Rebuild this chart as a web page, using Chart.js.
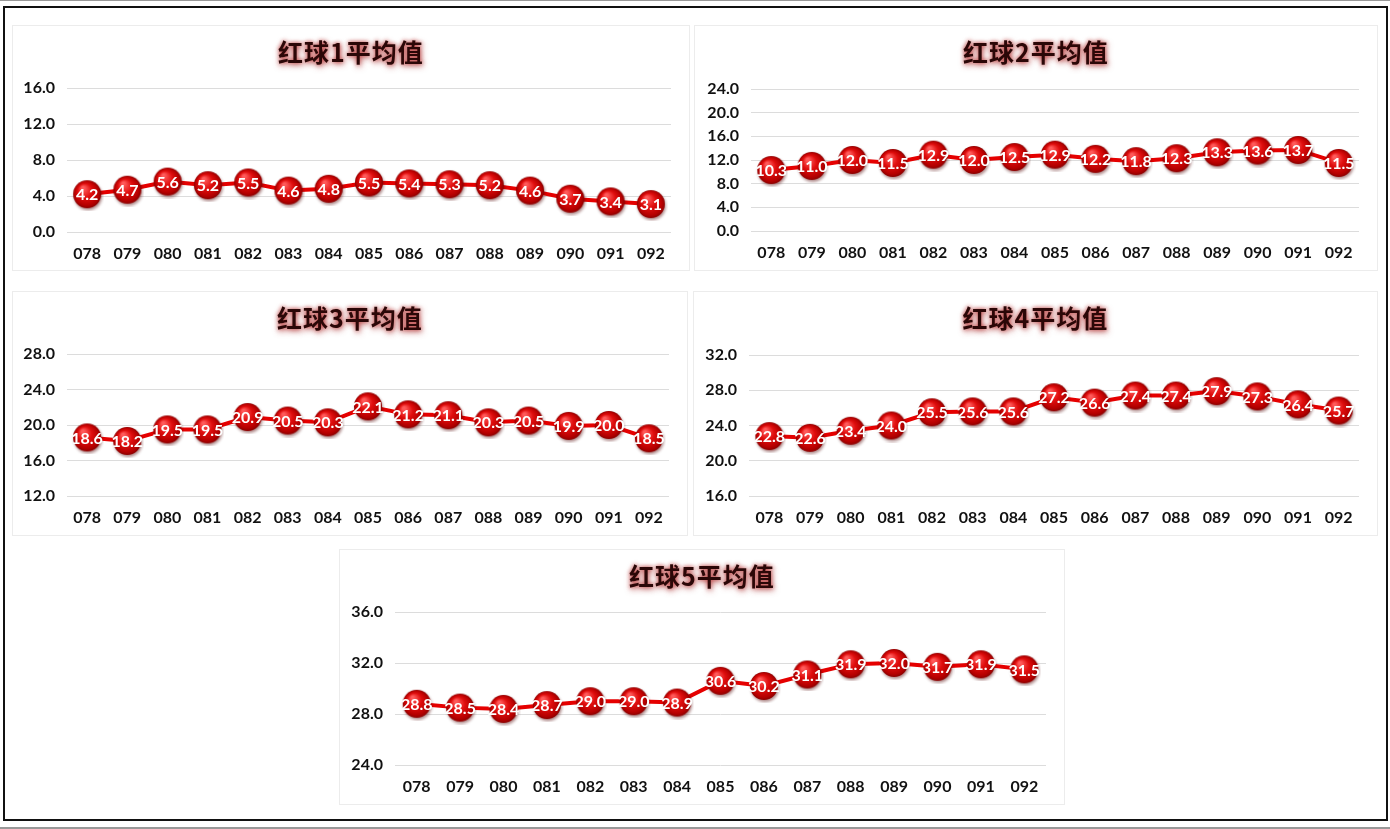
<!DOCTYPE html>
<html>
<head>
<meta charset="utf-8">
<script src="https://cdn.jsdelivr.net/npm/chart.js@4/dist/chart.umd.min.js"></script>
<style>
  html, body { margin: 0; padding: 0; background: #fff; }
  body { width: 1390px; height: 829px; position: relative; overflow: hidden; }
  .frame { position: absolute; left: 0; top: 0; width: 1390px; height: 829px; box-sizing: border-box; border-top: 1px solid #999; border-bottom: 2px solid #999; }
  .inner { position: absolute; left: 3px; top: 6px; width: 1385px; height: 815px; box-sizing: border-box; border: 2px solid #111; }
  .panel { position: absolute; box-sizing: border-box; border: 1px solid #ececec; background: #fff; }
  .panel canvas { position: absolute; left: 0; top: 0; }
  .title { position: absolute; left: 0; right: 0; top: 7px; text-align: center; font-family: "Noto Sans CJK SC", sans-serif; font-weight: 700; font-size: 25px; color: #2b0707; text-shadow: 0 0 4px rgba(190,60,60,0.9), 1px 2px 6px rgba(160,40,40,0.7); letter-spacing: 1px; }
</style>
</head>
<body>
<div class="frame"></div>
<div class="inner"></div>
<div id="charts"></div>
<script>
// 期号
const periods = ['078','079','080','081','082','083','084','085','086','087','088','089','090','091','092'];

// 各红球平均值
const ball1 = [4.2, 4.7, 5.6, 5.2, 5.5, 4.6, 4.8, 5.5, 5.4, 5.3, 5.2, 4.6, 3.7, 3.4, 3.1];
const ball2 = [10.3, 11.0, 12.0, 11.5, 12.9, 12.0, 12.5, 12.9, 12.2, 11.8, 12.3, 13.3, 13.6, 13.7, 11.5];
const ball3 = [18.6, 18.2, 19.5, 19.5, 20.9, 20.5, 20.3, 22.1, 21.2, 21.1, 20.3, 20.5, 19.9, 20.0, 18.5];
const ball4 = [22.8, 22.6, 23.4, 24.0, 25.5, 25.6, 25.6, 27.2, 26.6, 27.4, 27.4, 27.9, 27.3, 26.4, 25.7];
const ball5 = [28.8, 28.5, 28.4, 28.7, 29.0, 29.0, 28.9, 30.6, 30.2, 31.1, 31.9, 32.0, 31.7, 31.9, 31.5];

const titles = ['红球1平均值', '红球2平均值', '红球3平均值', '红球4平均值', '红球5平均值'];

// y轴范围 [min, max]
const yRanges = [[0, 16], [0, 24], [12, 28], [16, 32], [24, 36]];

// panel boxes and chart areas (px)
const panels = [
  { x: 12,  y: 25,  w: 678, h: 246, area: { l: 54, r: 663, t: 62, b: 206 } },
  { x: 694, y: 25,  w: 684, h: 246, area: { l: 56, r: 668, t: 63, b: 205 } },
  { x: 12,  y: 291, w: 676, h: 245, area: { l: 54, r: 660, t: 62, b: 204 } },
  { x: 693, y: 291, w: 685, h: 245, area: { l: 55, r: 669, t: 63, b: 204 } },
  { x: 339, y: 549, w: 726, h: 256, area: { l: 55, r: 713, t: 62, b: 215 } }
];

const series = [ball1, ball2, ball3, ball4, ball5];

// red glossy ball used as point style
function makeBall(d) {
  const c = document.createElement('canvas');
  c.width = d + 6; c.height = d + 6;
  const g = c.getContext('2d');
  const cx = c.width / 2, cy = c.height / 2, r = d / 2;
  g.save();
  g.shadowColor = 'rgba(80,0,0,0.45)';
  g.shadowBlur = 3;
  g.shadowOffsetX = 1;
  g.shadowOffsetY = 2;
  const grad = g.createRadialGradient(cx - r * 0.3, cy - r * 0.45, r * 0.1, cx, cy, r);
  grad.addColorStop(0, '#ff5a5a');
  grad.addColorStop(0.45, '#e00e0e');
  grad.addColorStop(0.85, '#b50000');
  grad.addColorStop(1, '#8a0000');
  g.fillStyle = grad;
  g.beginPath();
  g.arc(cx, cy, r, 0, Math.PI * 2);
  g.fill();
  g.restore();
  return c;
}
const ball = makeBall(28);

const valueLabels = {
  id: 'valueLabels',
  afterDatasetsDraw(chart) {
    const ctx = chart.ctx;
    const ds = chart.data.datasets[0];
    const meta = chart.getDatasetMeta(0);
    ctx.save();
    ctx.font = 'bold 16px Lato, "Open Sans", sans-serif';
    ctx.fillStyle = '#fff';
    ctx.textAlign = 'center';
    ctx.textBaseline = 'middle';
    meta.data.forEach((pt, i) => {
      ctx.fillText(ds.data[i].toFixed(1), pt.x, pt.y + 1);
    });
    ctx.restore();
  }
};

const holder = document.getElementById('charts');
panels.forEach((p, k) => {
  const div = document.createElement('div');
  div.className = 'panel';
  div.style.left = p.x + 'px';
  div.style.top = p.y + 'px';
  div.style.width = p.w + 'px';
  div.style.height = p.h + 'px';
  const cv = document.createElement('canvas');
  cv.width = p.w - 2; cv.height = p.h - 2;
  cv.style.width = (p.w - 2) + 'px';
  cv.style.height = (p.h - 2) + 'px';
  div.appendChild(cv);
  const t = document.createElement('div');
  t.className = 'title';
  t.textContent = titles[k];
  div.appendChild(t);
  holder.appendChild(div);

  const W = p.w - 2, H = p.h - 2;
  const yW = 44, xH = 34;
  const a = p.area;

  new Chart(cv, {
    type: 'line',
    data: {
      labels: periods,
      datasets: [{
        data: series[k],
        borderColor: '#e50000',
        borderWidth: 4,
        tension: 0,
        pointStyle: ball,
        pointRadius: 14,
        pointHoverRadius: 14,
        clip: false
      }]
    },
    options: {
      responsive: false,
      animation: false,
      events: [],
      layout: { padding: { left: a.l - yW, right: W - a.r, top: a.t, bottom: H - a.b - xH } },
      plugins: { legend: { display: false }, tooltip: { enabled: false }, title: { display: false } },
      scales: {
        x: {
          offset: true,
          grid: { display: false },
          border: { display: false },
          ticks: { color: '#111', font: { family: 'Lato, "Open Sans", sans-serif', weight: 'bold', size: 16 }, padding: 4, maxRotation: 0 },
          afterFit(s) { s.height = xH; }
        },
        y: {
          min: yRanges[k][0],
          max: yRanges[k][1],
          ticks: { stepSize: 4, color: '#111', padding: 12, font: { family: 'Lato, "Open Sans", sans-serif', weight: 'bold', size: 16 },
                   callback: v => v.toFixed(1) },
          grid: { color: '#dcdcdc', lineWidth: 1, drawTicks: false },
          border: { display: false },
          afterFit(s) { s.width = yW; }
        }
      }
    },
    plugins: [valueLabels]
  });
});
</script>
</body>
</html>
